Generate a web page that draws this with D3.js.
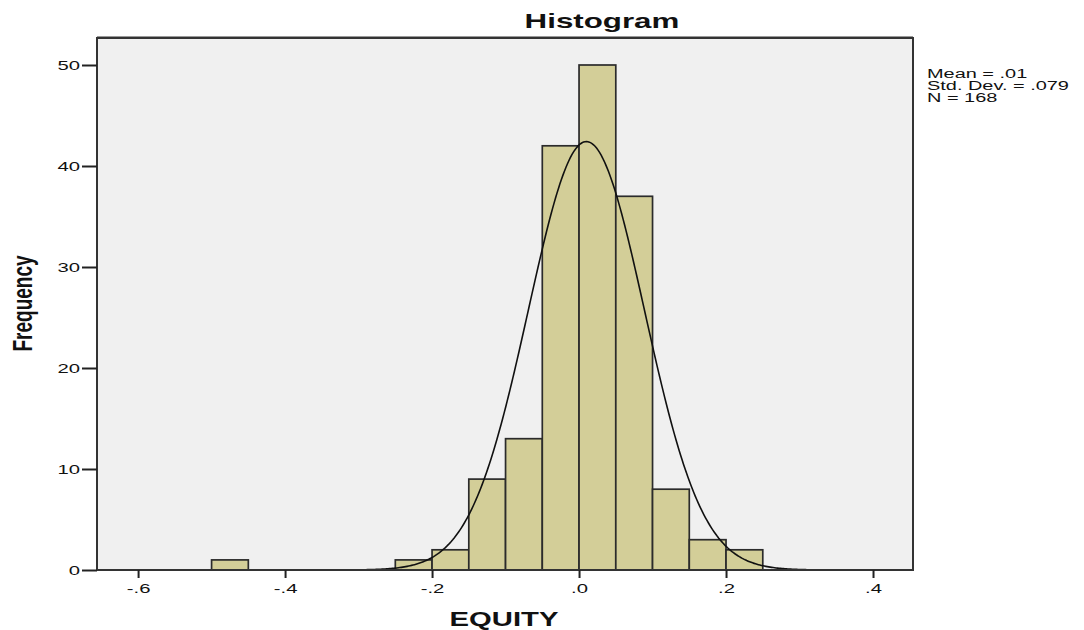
<!DOCTYPE html>
<html>
<head>
<meta charset="utf-8">
<script src="https://cdn.jsdelivr.net/npm/d3@7"></script>
<style>
  body { margin: 0; background: #fff; }
  text { font-family: "Liberation Sans", Arial, sans-serif; fill: #111; }
</style>
</head>
<body>
<div id="chart"></div>
<script>
// bins of EQUITY (width .05), start value of each bin
const binStarts = [-0.5, -0.25, -0.2, -0.15, -0.1, -0.05, 0, 0.05, 0.1, 0.15, 0.2];
const counts    = [1, 1, 2, 9, 13, 42, 50, 37, 8, 3, 2];
const binWidth = 0.05;
const xTicks = [-0.6, -0.4, -0.2, 0, 0.2, 0.4];
const yTicks = [0, 10, 20, 30, 40, 50];
const statLabels = ["Mean = .01", "Std. Dev. = .079", "N = 168"];
const mean = 0.01, sd = 0.079, n = 168;

const width = 1084, height = 630;
const plotLeft = 97, plotRight = 913, plotTop = 38, plotBottom = 570;

// the picture is wide, so text glyphs are stretched sideways
function stretch(sel, k) {
    sel.each(function() {
        const w = this.getComputedTextLength();
        d3.select(this)
            .attr('textLength', w * k)
            .attr('lengthAdjust', 'spacingAndGlyphs');
    });
}

const svg = d3.select('#chart')
    .append('svg')
        .attr('width', width)
        .attr('height', height);

const x = d3.scaleLinear()
    .domain([-0.6559, 0.4544])
    .range([plotLeft, plotRight]);

const y = d3.scaleLinear()
    .domain([0, 50])
    .range([plotBottom, 65]);

// plot background
svg.append('rect')
    .attr('x', plotLeft)
    .attr('y', plotTop)
    .attr('width', plotRight - plotLeft)
    .attr('height', plotBottom - plotTop)
    .attr('fill', '#f0f0f0');

// bars
svg.selectAll('rect.bar')
    .data(binStarts)
    .join('rect')
        .attr('class', 'bar')
        .attr('x', d => x(d))
        .attr('y', (d, i) => y(counts[i]))
        .attr('width', d => x(d + binWidth) - x(d))
        .attr('height', (d, i) => y(0) - y(counts[i]))
        .attr('fill', '#d3ce98')
        .attr('stroke', '#2b2b2b')
        .attr('stroke-width', 1.7);

// normal curve from the stated mean / sd
const curvePts = d3.range(-0.6559, 0.4544, 0.002).map(v => [
    v,
    n * binWidth * Math.exp(-0.5 * ((v - mean) / sd) ** 2) / (sd * Math.sqrt(2 * Math.PI))
]);
svg.append('path')
    .datum(curvePts)
    .attr('fill', 'none')
    .attr('stroke', '#111')
    .attr('stroke-width', 1.6)
    .attr('d', d3.line().x(d => x(d[0])).y(d => y(d[1])));

// frame
svg.append('rect')
    .attr('x', plotLeft)
    .attr('y', plotTop)
    .attr('width', plotRight - plotLeft)
    .attr('height', plotBottom - plotTop)
    .attr('fill', 'none')
    .attr('stroke', '#333')
    .attr('stroke-width', 2);
svg.append('line')
    .attr('x1', plotLeft).attr('x2', plotRight)
    .attr('y1', plotTop - 1.5).attr('y2', plotTop - 1.5)
    .attr('stroke', '#999').attr('stroke-width', 1);

// axes
const xAxis = svg.append('g')
    .attr('transform', `translate(0,${plotBottom})`)
    .call(d3.axisBottom(x).tickValues(xTicks).tickSize(8).tickPadding(5)
        .tickFormat(d => d3.format('.1f')(d).replace('0.', '.').replace('−', '-')));
const yAxis = svg.append('g')
    .attr('transform', `translate(${plotLeft},0)`)
    .call(d3.axisLeft(y).tickValues(yTicks).tickSize(15).tickPadding(2));

[xAxis, yAxis].forEach(g => {
    g.select('.domain').remove();
    g.selectAll('line').attr('stroke', '#222').attr('stroke-width', 2);
    g.selectAll('text')
        .attr('fill', '#222')
        .style('font-size', '13.5px')
        .style('font-family', '"Liberation Sans", Arial, sans-serif')
        .call(stretch, 1.5);
});

// title and axis labels
svg.append('text')
    .attr('x', 602)
    .attr('y', 28)
    .attr('text-anchor', 'middle')
    .style('font-weight', 'bold')
    .style('font-size', '21px')
    .text('Histogram')
    .call(stretch, 1.49);

svg.append('text')
    .attr('x', 504)
    .attr('y', 626)
    .attr('text-anchor', 'middle')
    .style('font-weight', 'bold')
    .style('font-size', '19.5px')
    .text('EQUITY')
    .call(stretch, 1.5);

svg.append('text')
    .attr('transform', 'translate(32,303.5) scale(1.5,1) rotate(-90)')
    .attr('text-anchor', 'middle')
    .style('font-weight', 'bold')
    .style('font-size', '19px')
    .text('Frequency');

// stats box text
svg.selectAll('text.stat')
    .data(statLabels)
    .join('text')
        .attr('class', 'stat')
        .attr('x', 927)
        .attr('y', (d, i) => 78 + i * 12)
        .style('font-size', '12px')
        .text(d => d)
        .call(stretch, 1.66);
</script>
</body>
</html>
